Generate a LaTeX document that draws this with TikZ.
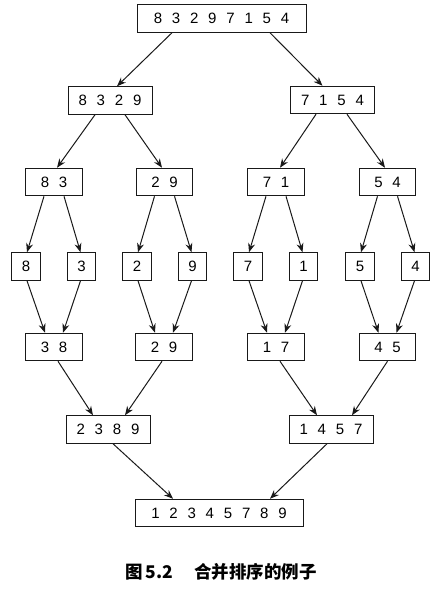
\documentclass[tikz,border=0pt]{standalone}
\usepackage{fontspec}
\newfontfamily\digits[WordSpace=2.35]{Liberation Sans}
\newfontfamily\cjk{Noto Sans CJK SC}
\usetikzlibrary{arrows.meta}
\begin{document}
\begin{tikzpicture}[x=1pt,y=-1pt,
  box/.style={draw=black!90,line width=1pt,inner sep=0pt,minimum height=27.5pt,font=\digits\fontsize{15pt}{17pt}\selectfont},
  w8/.style={box,minimum width=169pt},
  w4/.style={box,minimum width=84pt},
  w2/.style={box,minimum width=56.5pt},
  w1/.style={box,minimum width=28.5pt},
  arr/.style={draw=black!90,line width=1pt,-{Stealth[length=9pt,width=7pt]}}]
\useasboundingbox (0,0) rectangle (447,594);
% rows
\node[w8] (top) at (221.5,18.5) {8 3 2 9 7 1 5 4};
\node[w4] (L) at (110,100.5) {8 3 2 9};
\node[w4] (R) at (332.5,100) {7 1 5 4};
\node[w2] (a83) at (54,182) {8 3};
\node[w2] (a29) at (164.5,182) {2 9};
\node[w2] (a71) at (276,182) {7 1};
\node[w2] (a54) at (387.5,182) {5 4};
\node[w1] (s8) at (26,266.5) {8};
\node[w1] (s3) at (81.5,266.5) {3};
\node[w1] (s2) at (137,266.5) {2};
\node[w1] (s9) at (192.5,266.5) {9};
\node[w1] (s7) at (248,266.5) {7};
\node[w1] (s1) at (303.5,266.5) {1};
\node[w1] (s5) at (360,266.5) {5};
\node[w1] (s4) at (415.5,266.5) {4};
\node[w2] (b38) at (54,347) {3 8};
\node[w2] (b29) at (164,347) {2 9};
\node[w2] (b17) at (276,347) {1 7};
\node[w2] (b45) at (387.5,347) {4 5};
\node[w4] (c2389) at (108,429.5) {2 3 8 9};
\node[w4] (c1457) at (331,429.5) {1 4 5 7};
\node[box,minimum width=168pt] (fin) at (219,513) {1 2 3 4 5 7 8 9};
\node[font=\cjk\bfseries\fontsize{17.5pt}{19pt}\selectfont] (cap) at (221,572) {图\,5.2\hspace{1.2em}合并排序的例子};
% split arrows
\draw[arr] ([xshift=-49.5pt]top.south) -- ([xshift=7pt]L.north);
\draw[arr] ([xshift=48.5pt]top.south) -- ([xshift=-10pt]R.north);
\draw[arr] ([xshift=-15pt]L.south) -- ([xshift=3pt]a83.north);
\draw[arr] ([xshift=15pt]L.south) -- ([xshift=-2.5pt]a29.north);
\draw[arr] ([xshift=-16.5pt]R.south) -- ([xshift=4pt]a71.north);
\draw[arr] ([xshift=14.5pt]R.south) -- ([xshift=-2.5pt]a54.north);
\foreach \p/\l/\r in {a83/s8/s3,a29/s2/s9,a71/s7/s1,a54/s5/s4}{
  \draw[arr] ([xshift=-10pt]\p.south) -- ([xshift=1pt]\l.north);
  \draw[arr] ([xshift=10pt]\p.south) -- ([xshift=-1pt]\r.north);
}
% merge arrows
\foreach \l/\r/\c in {s8/s3/b38,s2/s9/b29,s7/s1/b17,s5/s4/b45}{
  \draw[arr] ([xshift=1pt]\l.south) -- ([xshift=-9pt]\c.north);
  \draw[arr] ([xshift=-1pt]\r.south) -- ([xshift=9pt]\c.north);
}
\draw[arr] ([xshift=4pt]b38.south) -- ([xshift=-15pt]c2389.north);
\draw[arr] ([xshift=-2pt]b29.south) -- ([xshift=17pt]c2389.north);
\draw[arr] ([xshift=4pt]b17.south) -- ([xshift=-14pt]c1457.north);
\draw[arr] ([xshift=0pt]b45.south) -- ([xshift=21pt]c1457.north);
\draw[arr] ([xshift=5pt]c2389.south) -- ([xshift=-46pt]fin.north);
\draw[arr] ([xshift=-4pt]c1457.south) -- ([xshift=51pt]fin.north);
\end{tikzpicture}
\end{document}
